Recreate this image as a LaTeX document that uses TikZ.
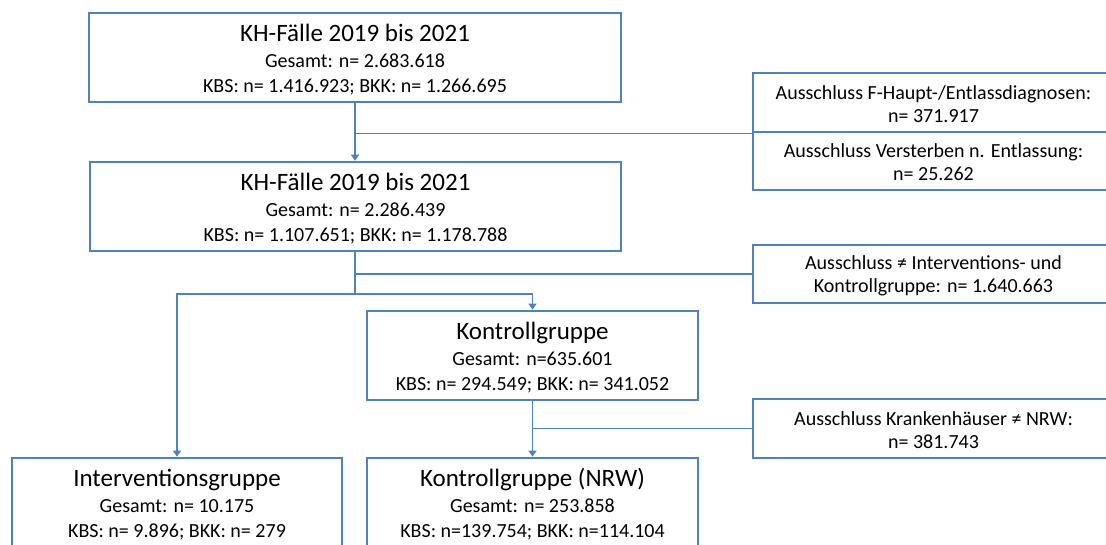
\documentclass[tikz,border=0pt]{standalone}
\usepackage{fontspec}
\setmainfont{Carlito}
\usetikzlibrary{arrows.meta}
\definecolor{boxblue}{HTML}{4F81BD}
\tikzset{
  mainbox/.style={draw=boxblue, line width=2.7pt, rectangle, align=center,
    inner sep=0pt, minimum height=89pt,
    font=\fontsize{20}{25.5}\selectfont},
  exclbox/.style={draw=boxblue, line width=2.7pt, rectangle, align=center,
    inner sep=0pt, minimum width=361pt,
    font=\fontsize{20}{23}\selectfont},
  conn/.style={draw=boxblue, line width=1.5pt},
  arr/.style={conn, -{Triangle[width=8pt,length=6pt]}}
}
\newcommand{\ttl}[1]{\rule{0pt}{22pt}{\fontsize{25}{25}\selectfont #1}\\[0pt]}
\newcommand{\exs}{\rule{0pt}{17pt}}
\begin{document}
\begin{tikzpicture}[x=1pt,y=-1pt]
\clip (0,0) rectangle (1106,544);
\fill[white] (0,0) rectangle (1106,544);

\node[mainbox, minimum width=532pt] (b1) at (355,57.5)
  {\ttl{KH-Fälle 2019 bis 2021}Gesamt: n= 2.683.618\\KBS: n= 1.416.923; BKK: n= 1.266.695};
\node[mainbox, minimum width=531pt] (b2) at (355.5,206.5)
  {\ttl{KH-Fälle 2019 bis 2021}Gesamt: n= 2.286.439\\KBS: n= 1.107.651; BKK: n= 1.178.788};
\node[mainbox, minimum width=331pt] (kg) at (532.5,355.5)
  {\ttl{Kontrollgruppe}Gesamt: n=635.601\\KBS: n= 294.549; BKK: n= 341.052};
\node[mainbox, minimum width=330pt] (ig) at (177,502.5)
  {\ttl{Interventionsgruppe}Gesamt: n= 10.175\\KBS: n= 9.896; BKK: n= 279};
\node[mainbox, minimum width=331pt] (nrw) at (532.5,502.5)
  {\ttl{Kontrollgruppe (NRW)}Gesamt: n= 253.858\\KBS: n=139.754; BKK: n=114.104};

\node[exclbox, minimum height=59pt] (ea) at (933.5,102.5)
  {\exs Ausschluss F-Haupt-/Entlassdiagnosen:\\n= 371.917};
\node[exclbox, minimum height=58pt] (eb) at (933.5,161)
  {\exs Ausschluss Versterben n. Entlassung:\\n= 25.262};
\node[exclbox, minimum height=58pt] (ec) at (933.5,274)
  {\exs Ausschluss ≠ Interventions- und\\Kontrollgruppe: n= 1.640.663};
\node[exclbox, minimum height=59pt] (ed) at (933.5,428.5)
  {\exs Ausschluss Krankenhäuser ≠ NRW:\\n= 381.743};

\coordinate (split) at (355,294);

\draw[arr] (b1.south -| split) -- (b2.north -| split);
\draw[conn] (ea.south west -| split) -- (ea.south west);
\draw[conn] (b2.south -| split) -- (split);
\draw[conn] (split |- ec.west) -- (ec.west);
\draw[arr] (split) -- (ig.north |- split) -- (ig.north);
\draw[arr] (split) -- (kg.north |- split) -- (kg.north);
\draw[arr] (kg.south) -- (nrw.north);
\draw[conn] (kg.south |- ed.west) -- (ed.west);
\end{tikzpicture}
\end{document}
